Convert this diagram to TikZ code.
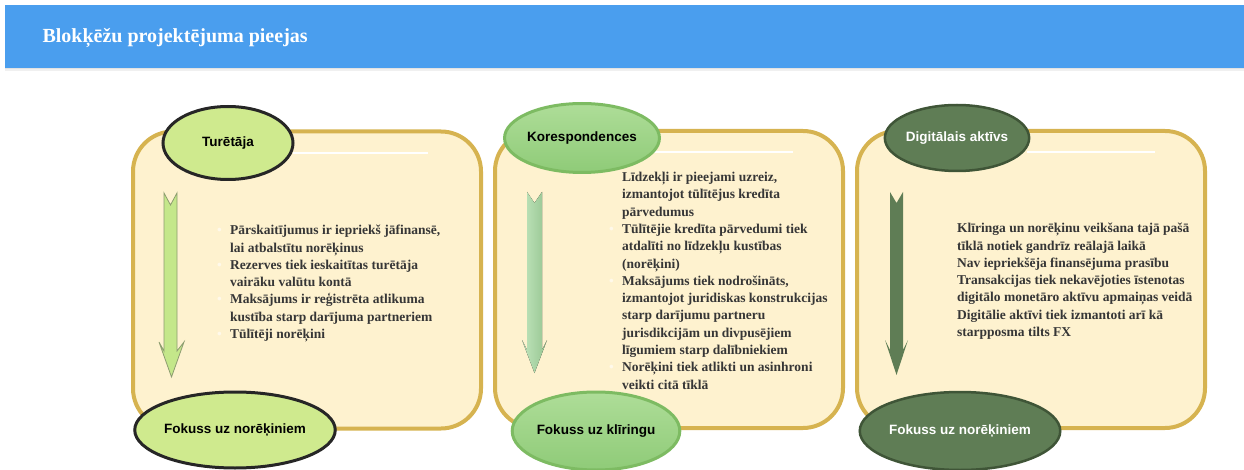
\documentclass[tikz,border=0pt]{standalone}
\usepackage{fontspec}
\setmainfont{Liberation Serif}
\newfontfamily\labelfont{Liberation Sans}
\usetikzlibrary{shapes.geometric}

\definecolor{headblue}{HTML}{4A9EEE}
\definecolor{panelfill}{HTML}{FEF2CF}
\definecolor{panelgold}{HTML}{D6B350}
\definecolor{bodytext}{HTML}{363636}
\definecolor{bulletc}{HTML}{FFF9EA}
\definecolor{limefill}{HTML}{CFEA8E}
\definecolor{limearrow}{HTML}{C4E78A}
\definecolor{limeedge}{HTML}{8C9C70}
\definecolor{leafedge}{HTML}{7DBB62}
\definecolor{leaftop}{HTML}{AEDD98}
\definecolor{leafbot}{HTML}{8FCB78}
\definecolor{leafarrow}{HTML}{A6DAA0}
\definecolor{mossfill}{HTML}{5F7D55}
\definecolor{mossedge}{HTML}{3F5537}

\newcommand\bul{\makebox[13pt][l]{\textcolor{bulletc}{\textbullet}}}
\newcommand\nob{\hspace*{13pt}}

\tikzset{
  panel/.style={draw=panelgold, line width=4pt, fill=panelfill,
    rounded corners=40pt, minimum width=348pt, minimum height=297pt, inner sep=0pt},
  oval/.style={ellipse, inner sep=0pt, line width=3pt,
    font=\labelfont\bfseries\fontsize{13.5}{16}\selectfont},
  limeoval/.style={oval, draw=black!85, fill=limefill, text=black},
  leafoval/.style={oval, draw=leafedge, top color=leaftop, bottom color=leafbot, text=black},
  mossoval/.style={oval, draw=mossedge, line width=2.5pt, fill=mossfill, text=white},
  body/.style={anchor=north west, align=left, inner sep=0pt, text=bodytext,
    font=\bfseries\fontsize{13.5}{17.3}\selectfont},
  gleam/.style={draw=white, line width=1.5pt},
}

\begin{document}
\begin{tikzpicture}[x=1pt, y=-1pt]
\useasboundingbox (0,0) rectangle (1244,470);

% header band with a soft shadow
\fill[black, opacity=0.06] (5,67) rectangle (1244,71);
\fill[black, opacity=0.06] (5,67) rectangle (1244,69);
\node[fill=headblue, minimum width=1239pt, minimum height=63pt, inner sep=0pt, anchor=north west] (header) at (5,5) {};
\node[anchor=west, text=white, font=\bfseries\fontsize{20}{24}\selectfont] (title) at (39,38) {Blokķēžu projektējuma pieejas};

% panels
\node[panel] (p1) at (307,280) {};
\node[panel] (p2) at (669,279.5) {};
\node[panel] (p3) at (1031,279.5) {};

% highlight strokes
\draw[gleam] (293,153) -- (428,153);
\draw[gleam] (633,152) -- (793,152);
\draw[gleam] (1027,152) -- (1155,152);

% down arrows
\filldraw[fill=limearrow, draw=limeedge, line width=0.8pt, line join=miter]
  (164,193) -- (170.5,205) -- (177,193) -- (177,351) -- (184,342) -- (171.5,377)
  -- (159,342) -- (164,351) -- cycle;
\fill[left color=leafarrow!70!white, right color=leafarrow!90!black]
  (527,192) -- (534.5,203) -- (542,192) -- (542,350) -- (547,340) -- (534.5,373)
  -- (522,340) -- (527,350) -- cycle;
\fill[mossfill]
  (890,192) -- (896.5,203) -- (903,192) -- (903,350) -- (908,340) -- (896.5,375)
  -- (885,340) -- (890,350) -- cycle;

% ovals
\node[limeoval, minimum width=130pt, minimum height=73pt] (t1) at (228,143) {Turētāja};
\node[limeoval, minimum width=156pt, minimum height=76pt] (b1) at (235,430) {Fokuss uz norēķiniem};
\node[leafoval, minimum width=117pt, minimum height=69pt] (t2) at (582,138) {Korespondences};
\node[leafoval, minimum width=160pt, minimum height=78pt] (b2) at (596,431) {Fokuss uz klīringu};
\node[mossoval, minimum width=140pt, minimum height=66pt] (t3) at (957,138) {Digitālais aktīvs};
\node[mossoval, minimum width=155pt, minimum height=78pt] (b3) at (960,431) {Fokuss uz norēķiniem};

% texts
\node[body] (x1) at (217,225) {%
\bul Pārskaitījumus ir iepriekš jāfinansē,\\
\nob lai atbalstītu norēķinus\\
\bul Rezerves tiek ieskaitītas turētāja\\
\nob vairāku valūtu kontā\\
\bul Maksājums ir reģistrēta atlikuma\\
\nob kustība starp darījuma partneriem\\
\bul Tūlītēji norēķini};

\node[body] (x2) at (609,172) {%
\nob Līdzekļi ir pieejami uzreiz,\\
\nob izmantojot tūlītējus kredīta\\
\nob pārvedumus\\
\bul Tūlītējie kredīta pārvedumi tiek\\
\nob atdalīti no līdzekļu kustības\\
\nob (norēķini)\\
\bul Maksājums tiek nodrošināts,\\
\nob izmantojot juridiskas konstrukcijas\\
\nob starp darījumu partneru\\
\nob jurisdikcijām un divpusējiem\\
\nob līgumiem starp dalībniekiem\\
\bul Norēķini tiek atlikti un asinhroni\\
\nob veikti citā tīklā};

\node[body] (x3) at (957,223) {%
Klīringa un norēķinu veikšana tajā pašā\\
tīklā notiek gandrīz reālajā laikā\\
Nav iepriekšēja finansējuma prasību\\
Transakcijas tiek nekavējoties īstenotas\\
digitālo monetāro aktīvu apmaiņas veidā\\
Digitālie aktīvi tiek izmantoti arī kā\\
starpposma tilts FX};
\end{tikzpicture}
\end{document}
